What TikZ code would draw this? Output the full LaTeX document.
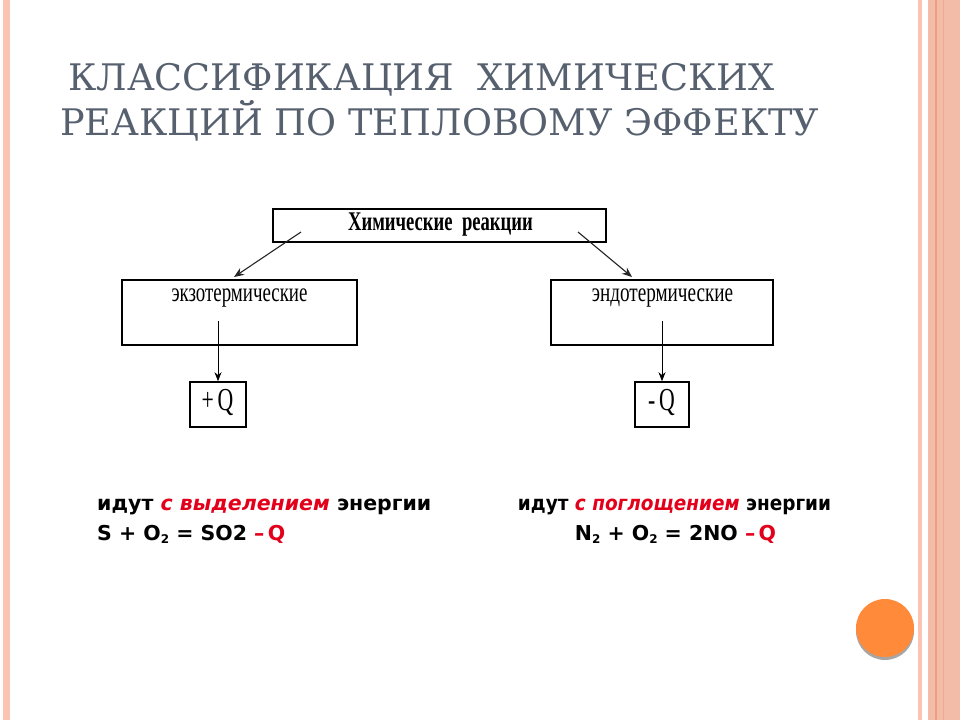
\documentclass[tikz,border=0pt]{standalone}
\usepackage{fontspec}
\setmainfont{Liberation Serif}
\newfontfamily\bodysans{DejaVu Sans}
\newfontfamily\titleserif{DejaVu Serif}
\usetikzlibrary{arrows.meta}
\definecolor{titlegray}{HTML}{56606E}
\definecolor{stripe}{HTML}{FAC3B2}
\definecolor{stripeB}{HTML}{F2BCA8}
\definecolor{stripeC}{HTML}{EC9E80}
\definecolor{dotorange}{HTML}{FF8A3A}
\definecolor{redtxt}{HTML}{E3001B}
\newcommand\lowtwo{\raisebox{-0.35ex}{\fontsize{12}{12}\selectfont 2}}
\begin{document}
\begin{tikzpicture}[x=1pt,y=-1pt,
  boxstyle/.style={draw=black,line width=1.6pt,inner sep=0pt,fill=white},
  boxtext/.style={font=\rmfamily\fontsize{27}{27}\selectfont,inner sep=0pt},
  arr/.style={-{Stealth[length=9pt,width=7pt]},line width=0.8pt},
  diag/.style={-{Stealth[length=10pt,width=8pt]},line width=1.1pt,draw=black!85},
  titletext/.style={anchor=base west,inner sep=0pt,text=titlegray,font=\titleserif\fontsize{36.6}{44}\selectfont},
  body/.style={font=\bodysans\bfseries\fontsize{20.5}{24}\selectfont,inner sep=0pt}]
\fill[white] (0,0) rectangle (960,720);
\useasboundingbox (0,0) rectangle (960,720);
% side decoration
\fill[stripe] (3,0) rectangle (10,720);
\fill[stripe] (918,0) rectangle (922,720);
\fill[stripeB] (928,0) rectangle (960,720);
\fill[stripeC] (934.5,0) rectangle (936.5,720);
\fill[stripeC!60!stripeB] (943,0) rectangle (944,720);
% orange dot
\fill[gray!70] (885,631) circle (29);
\fill[dotorange] (885,628) circle (29);
% title
\node[titletext] (t1) at (68,90) {КЛАССИФИКАЦИЯ\ \ ХИМИЧЕСКИХ};
\node[titletext] (t2) at (60,135) {РЕАКЦИЙ ПО ТЕПЛОВОМУ ЭФФЕКТУ};
% boxes
\node[boxstyle,minimum width=333pt,minimum height=33pt] (top) at (439.5,225.5) {};
\node[inner sep=0pt,font=\rmfamily\bfseries\fontsize{27}{27}\selectfont] (toptxt) at (440.5,225) {\scalebox{0.69}[1]{Химические\ \ реакции}};
\node[boxstyle,minimum width=235pt,minimum height=65pt] (exo) at (239.5,312.5) {};
\node[boxtext] (exotxt) at (239.5,298) {\scalebox{0.7}[1]{экзотермические}};
\node[boxstyle,minimum width=222pt,minimum height=65pt] (endo) at (662,312.5) {};
\node[boxtext] (endotxt) at (662.5,298) {\scalebox{0.71}[1]{эндотермические}};
\node[boxstyle,minimum width=56pt,minimum height=45pt] (q1) at (218,404.5) {};
\node[inner sep=0pt,font=\rmfamily\fontsize{32}{32}\selectfont] (q1txt) at (217.5,402) {\scalebox{0.68}[1]{+\,Q}};
\node[boxstyle,minimum width=54pt,minimum height=45pt] (q2) at (662,404.5) {};
\node[inner sep=0pt,font=\rmfamily\fontsize{32}{32}\selectfont] (q2txt) at (661.5,402) {\scalebox{0.68}[1]{-\,Q}};
% connectors
\coordinate (d1) at (301,232);
\coordinate (e1) at (234,277);
\coordinate (d2) at (578,232);
\coordinate (e2) at (632,277);
\draw[diag] (d1) -- (e1);
\draw[diag] (d2) -- (e2);
\coordinate (v1) at (218,321);
\coordinate (v2) at (662,321);
\draw[arr] (v1) -- (q1.north);
\draw[arr] (v2) -- (q2.north);
% texts
\node[body,anchor=base west] (l1) at (97,510) {идут \textcolor{redtxt}{\itshape с выделением} энергии};
\node[body,anchor=base west] (l2) at (97,540) {S + O\lowtwo\ = SO2 \textcolor{redtxt}{–\,Q}};
\node[body,anchor=base] (r1) at (674.5,510) {\scalebox{0.9}[1]{идут \textcolor{redtxt}{\itshape с поглощением} энергии}};
\node[body,anchor=base] (r2) at (675.5,540) {N\lowtwo\ + O\lowtwo\ = 2NO \textcolor{redtxt}{–\,Q}};
\end{tikzpicture}
\end{document}
